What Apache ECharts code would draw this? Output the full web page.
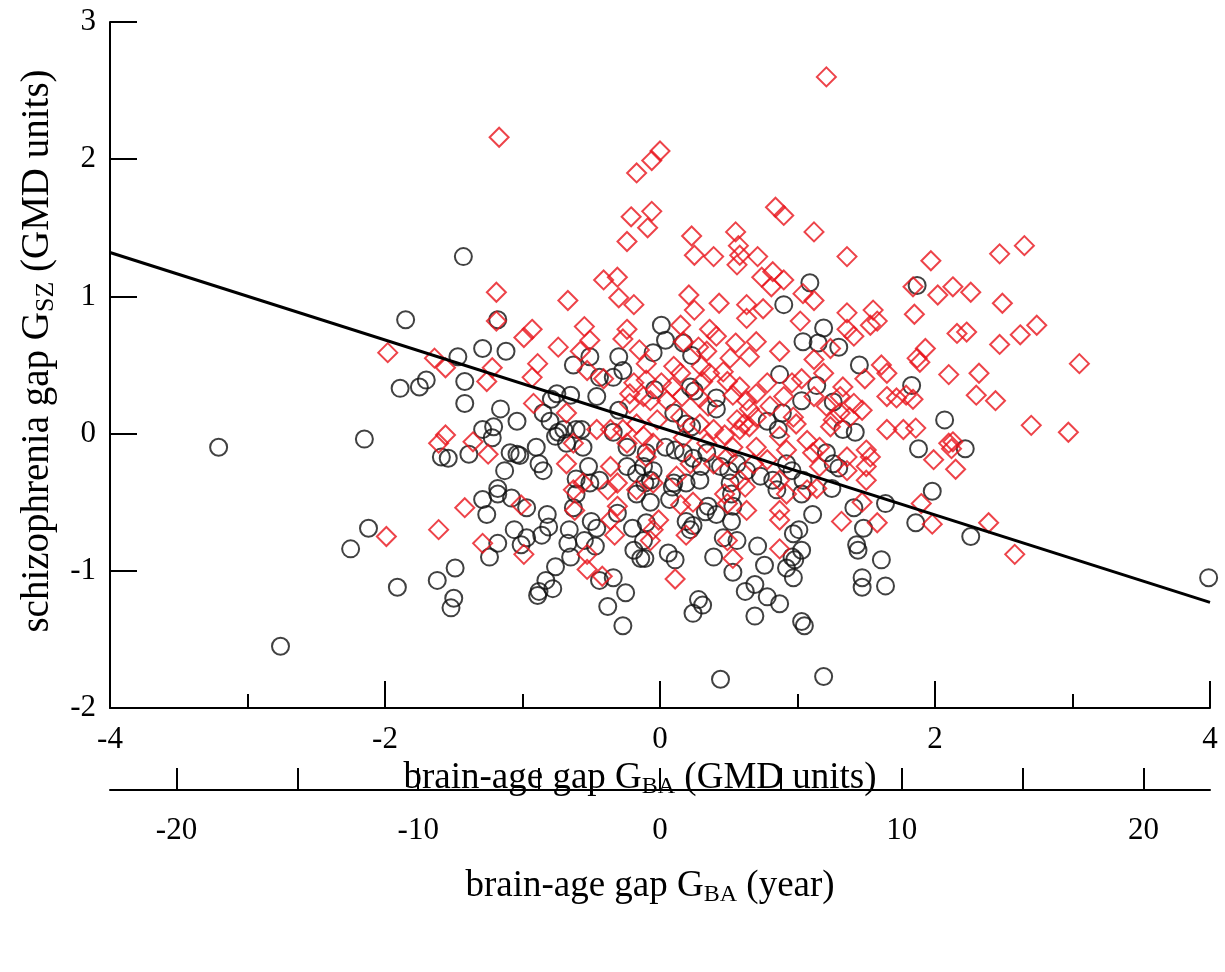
<!DOCTYPE html>
<html>
<head>
<meta charset="utf-8">
<script src="https://cdn.jsdelivr.net/npm/echarts@6.0.0/dist/echarts.min.js"></script>
<style>
  html, body { margin: 0; padding: 0; background: #fff; }
  #chart { width: 1225px; height: 972px; }
</style>
</head>
<body>
<div id="chart"></div>
<script>
// brain-age gap (GMD units), schizophrenia gap (GMD units) - black circles
const controlPoints = [
  [-3.21, -0.10], [-2.76, -1.55], [-2.25, -0.84], [-2.12, -0.69], [-2.15, -0.04],
  [-1.43, 1.29], [-1.85, 0.83], [-1.18, 0.83], [-1.29, 0.62], [-1.12, 0.60],
  [-1.47, 0.56], [-1.70, 0.39], [-1.75, 0.34], [-1.89, 0.33], [-1.42, 0.38],
  [-1.42, 0.22], [-1.16, 0.18], [-1.04, 0.09], [-1.29, 0.03], [-1.21, 0.05],
  [-1.22, -0.03], [-1.59, -0.17], [-1.54, -0.18], [-1.39, -0.15], [-1.09, -0.14],
  [-1.04, -0.15], [-1.02, -0.16], [-1.13, -0.27], [-1.18, -0.40], [-0.90, -0.10],
  [-0.88, -0.22], [-0.85, -0.27], [-0.85, 0.15], [-0.80, 0.09], [-0.76, -0.02],
  [-0.74, 0.01], [-0.70, 0.03], [-0.75, 0.29], [-0.79, 0.25], [-0.65, 0.28],
  [-0.63, 0.50], [-0.51, 0.56], [-0.30, 0.56], [-0.27, 0.46], [-0.34, 0.41],
  [-0.44, 0.41], [-0.46, 0.27], [-0.30, 0.17], [-0.61, 0.03], [-0.57, 0.03],
  [-0.68, -0.07], [-0.56, -0.10], [-0.52, -0.24], [-0.61, -0.33], [-0.51, -0.36],
  [-0.44, -0.34], [-0.24, -0.10], [-0.24, -0.24], [-0.17, -0.29], [-0.11, -0.36],
  [-0.10, -0.14], [-0.34, 0.01],
  [-1.91, -1.12], [-1.62, -1.07], [-1.49, -0.98], [-1.50, -1.20], [-1.52, -1.27],
  [-1.29, -0.48], [-1.18, -0.44], [-1.08, -0.47], [-0.97, -0.54], [-1.26, -0.59],
  [-1.18, -0.80], [-1.24, -0.90], [-1.06, -0.70], [-1.01, -0.81], [-0.97, -0.76],
  [-0.86, -0.74], [-0.81, -0.68], [-0.82, -0.59], [-0.76, -0.97], [-0.83, -1.07],
  [-0.78, -1.13], [-0.89, -1.18], [-0.88, -1.15], [-0.66, -0.70], [-0.67, -0.80],
  [-0.65, -0.90], [-0.63, -0.54], [-0.61, -0.44], [-0.55, -0.78], [-0.50, -0.64],
  [-0.46, -0.69], [-0.47, -0.82], [-0.44, -1.07], [-0.34, -1.05], [-0.38, -1.26],
  [-0.25, -1.16], [-0.27, -1.40], [-0.31, -0.58], [-0.20, -0.69], [-0.19, -0.85],
  [-0.14, -0.91], [-0.12, -0.78], [-0.17, -0.44],
  [-0.07, -0.50], [-0.10, -0.65], [-0.11, -0.91], [0.09, -0.39], [0.07, -0.48],
  [0.06, -0.87], [0.11, -0.92], [0.19, -0.64], [0.24, -0.67], [0.22, -0.70],
  [0.35, -0.53], [0.41, -0.59], [0.33, -0.57], [0.28, -1.21], [0.31, -1.25],
  [0.24, -1.31], [0.39, -0.90], [0.44, -1.79], [0.46, -0.76], [0.52, -0.64],
  [0.53, -0.53], [0.53, -1.01], [0.52, -0.44], [0.56, -0.78], [0.62, -1.15],
  [0.69, -1.10], [0.78, -1.19], [0.87, -1.24], [0.69, -1.33], [0.71, -0.82],
  [0.76, -0.96], [0.85, -0.41], [0.97, -0.73], [1.01, -0.70], [1.03, -0.85],
  [0.98, -0.92], [0.96, -0.90], [0.92, -0.98], [0.97, -1.05], [1.03, -1.37],
  [1.05, -1.40], [1.11, -0.59], [1.19, -1.77], [1.03, -0.44], [1.25, -0.40],
  [1.41, -0.54], [1.43, -0.81], [1.44, -0.85], [1.47, -1.05], [1.47, -1.12],
  [1.48, -0.69], [1.64, -0.51], [1.61, -0.92], [1.64, -1.11], [1.86, -0.65],
  [2.26, -0.75], [3.99, -1.05],
  [1.87, 1.08], [1.83, 0.35], [2.07, 0.10], [1.88, -0.11], [2.22, -0.11], [1.98, -0.42],
  [1.09, 1.10], [0.90, 0.94], [0.01, 0.79], [0.04, 0.68], [-0.05, 0.59],
  [1.04, 0.67], [1.19, 0.77], [1.15, 0.66], [1.30, 0.63], [1.45, 0.50],
  [0.87, 0.43], [1.14, 0.35], [-0.04, 0.32], [0.22, 0.34], [0.25, 0.31],
  [0.41, 0.26], [0.41, 0.18], [0.23, 0.57], [0.17, 0.66], [1.03, 0.24],
  [1.26, 0.23], [1.33, 0.03], [1.42, 0.01], [0.78, 0.09], [0.86, 0.03],
  [0.89, 0.15], [0.19, 0.07], [0.23, 0.05], [0.10, 0.15], [0.04, -0.10],
  [0.11, -0.12], [0.17, -0.14], [0.24, -0.18], [0.30, -0.24], [0.34, -0.14],
  [0.44, -0.24], [0.50, -0.27], [0.56, -0.22], [0.63, -0.27], [0.73, -0.31],
  [0.82, -0.34], [0.92, -0.22], [0.96, -0.27], [1.04, -0.34], [1.21, -0.14],
  [1.26, -0.22], [1.30, -0.25], [-0.12, -0.24], [-0.05, -0.27], [-0.07, -0.34],
  [0.10, -0.36], [0.19, -0.36], [0.29, -0.34], [0.51, -0.36]
];

// red diamonds
const patientPoints = [
  [-1.17, 2.16], [-0.17, 1.90], [-0.06, 1.99], [0.00, 2.06], [-0.21, 1.58],
  [-0.06, 1.62], [-0.24, 1.40], [-0.09, 1.50], [1.21, 2.60], [0.23, 1.44],
  [0.55, 1.47], [0.57, 1.37], [0.84, 1.65], [0.90, 1.59], [1.12, 1.47],
  [0.25, 1.30], [0.39, 1.29], [0.58, 1.30], [0.71, 1.29], [1.36, 1.29],
  [2.65, 1.37], [2.47, 1.31], [1.97, 1.26],
  [1.84, 1.07], [2.02, 1.01], [2.13, 1.07], [2.26, 1.03], [2.49, 0.95],
  [1.85, 0.87], [2.16, 0.73], [2.23, 0.74], [2.47, 0.65], [2.62, 0.72],
  [2.74, 0.79], [3.05, 0.51], [1.93, 0.62], [1.87, 0.55], [1.89, 0.52],
  [2.10, 0.43], [2.32, 0.44], [2.30, 0.28], [2.44, 0.24], [1.84, 0.25],
  [2.70, 0.06], [2.97, 0.01], [1.86, 0.04], [2.10, -0.07], [2.13, -0.06],
  [2.12, -0.11], [1.99, -0.19], [2.15, -0.26],
  [1.90, -0.51], [1.98, -0.66], [2.39, -0.65], [2.58, -0.88],
  [-1.98, 0.59], [-1.19, 1.03], [-1.19, 0.82], [-0.99, 0.70], [-0.93, 0.76],
  [-0.74, 0.63], [-0.67, 0.97], [-0.41, 1.12], [-0.31, 1.14], [-0.30, 0.99],
  [-0.19, 0.94], [-0.55, 0.78], [-0.51, 0.68], [-0.58, 0.60], [-0.24, 0.76],
  [-0.27, 0.69], [-0.15, 0.61], [-1.64, 0.55], [-1.56, 0.48], [-1.22, 0.48],
  [-1.26, 0.38], [-0.89, 0.51], [-0.93, 0.41], [-0.92, 0.22], [-0.68, 0.15],
  [-0.46, 0.03], [-0.36, 0.03], [-0.53, 0.46], [-0.41, 0.40], [-0.19, 0.37],
  [-0.22, 0.29], [-0.22, 0.22], [-0.12, 0.27], [-1.56, -0.01], [-1.61, -0.07],
  [-1.36, -0.06], [-1.25, -0.15], [-0.68, -0.22], [-0.63, -0.07], [-0.36, -0.24],
  [-0.27, 0.03], [-0.24, -0.07], [-0.17, 0.07], [-0.56, -0.36], [-0.31, -0.36],
  [0.56, 1.23], [0.82, 1.18], [0.90, 1.12], [0.74, 1.14], [0.81, 1.07],
  [0.21, 1.01], [0.25, 0.90], [0.43, 0.95], [0.63, 0.94], [0.75, 0.91],
  [0.63, 0.84], [1.04, 1.02], [1.12, 0.97], [1.36, 0.88], [1.55, 0.90],
  [1.53, 0.79], [1.58, 0.82], [1.02, 0.82], [1.36, 0.76], [1.41, 0.71],
  [0.15, 0.79], [0.36, 0.76], [0.41, 0.71], [0.55, 0.66], [0.70, 0.67],
  [0.17, 0.67], [0.28, 0.63], [0.34, 0.60], [0.51, 0.55], [0.65, 0.56],
  [0.87, 0.60], [1.12, 0.54], [1.24, 0.62], [1.61, 0.50], [1.65, 0.44],
  [-0.10, 0.51], [0.10, 0.49], [0.15, 0.44], [0.30, 0.49], [0.36, 0.44],
  [0.46, 0.45], [-0.10, 0.39], [0.01, 0.37], [0.09, 0.34], [0.31, 0.38],
  [0.49, 0.38], [0.58, 0.34], [0.70, 0.29], [0.78, 0.37], [0.96, 0.37],
  [1.03, 0.40], [1.19, 0.44], [1.33, 0.34], [1.49, 0.40], [1.65, 0.27],
  [1.72, 0.26], [1.79, 0.28], [-0.07, 0.24], [0.05, 0.24], [0.16, 0.27],
  [0.29, 0.26], [0.35, 0.20], [0.53, 0.28], [0.63, 0.24], [0.65, 0.18],
  [0.80, 0.20], [0.90, 0.27], [1.12, 0.27], [1.21, 0.20], [1.31, 0.27],
  [1.41, 0.22], [1.47, 0.17], [1.65, 0.03], [1.77, 0.03], [0.56, 0.10],
  [0.61, 0.07], [0.65, 0.05], [0.58, 0.03], [0.70, 0.12], [0.97, 0.12],
  [0.99, 0.07], [1.07, -0.05], [1.26, 0.10], [1.31, 0.15], [1.38, 0.12],
  [1.50, -0.12], [1.53, -0.17], [1.50, -0.24], [1.36, -0.17], [1.16, -0.10],
  [1.24, 0.05], [-0.02, 0.10], [0.15, 0.12], [0.29, 0.07], [0.39, 0.03],
  [0.47, -0.01], [-0.12, -0.02], [-0.05, -0.07], [0.17, -0.03], [0.34, -0.07],
  [0.53, -0.10], [0.70, -0.10], [0.87, -0.02], [0.92, -0.12], [0.78, -0.19],
  [0.68, -0.22], [0.49, -0.17], [0.39, -0.22], [0.22, -0.22], [-0.10, -0.17],
  [1.11, -0.14], [1.16, -0.24], [1.36, -0.27], [1.50, -0.34], [-0.05, -0.36],
  [0.12, -0.31], [0.58, -0.34], [0.87, -0.34],
  [-1.99, -0.75], [-1.61, -0.70], [-1.42, -0.54], [-1.29, -0.80], [-1.01, -0.52],
  [-0.99, -0.88], [-0.63, -0.41], [-0.62, -0.56], [-0.53, -0.88], [-0.53, -0.99],
  [-0.42, -1.04], [-0.38, -0.41], [-0.31, -0.53], [-0.36, -0.63], [-0.33, -0.74],
  [-0.17, -0.41],
  [-0.01, -0.63], [-0.05, -0.70], [-0.07, -0.78], [0.15, -0.52], [0.24, -0.50],
  [0.19, -0.74], [0.11, -1.06], [0.47, -0.44], [0.49, -0.51], [0.62, -0.39],
  [0.63, -0.56], [0.49, -0.78], [0.53, -0.91], [0.87, -0.63], [0.87, -0.56],
  [0.87, -0.84], [0.92, -0.44], [1.07, -0.41], [1.14, -0.40], [1.32, -0.64],
  [1.47, -0.50], [1.58, -0.65]
];

// fitted line end points
const fitX = [-4, 4];
const fitY = [1.32, -1.23];

// lower axis in years
const yearRange = [-22.75, 22.75];
const yearTicks = [-20, -15, -10, -5, 0, 5, 10, 15, 20];
const yearLabels = [-20, -10, 0, 10, 20];

const serif = "'Liberation Serif', 'DejaVu Serif', serif";

// axis title with subscript, padding nudges it off-centre like the original
function titleStyle(size, pad) {
  return {
    fontFamily: serif,
    fontSize: size,
    color: "#000",
    padding: pad,
    rich: {
      sub: { fontFamily: serif, fontSize: Math.round(size * 0.66), color: "#000", padding: [Math.round(size * 0.45), 0, 0, 0] }
    }
  };
}

const myChart = echarts.init(document.getElementById("chart"));

const option = {
  backgroundColor: "#fff",
  animation: false,
  textStyle: { fontFamily: serif },
  grid: [
    { left: 110, top: 22, width: 1100, height: 686 },
    { left: 110, top: 789, width: 1100, height: 1 }
  ],
  xAxis: [
    {
      gridIndex: 0,
      type: "value",
      min: -4,
      max: 4,
      interval: 2,
      name: "brain-age gap G{sub|BA} (GMD units)",
      nameLocation: "middle",
      nameGap: 42,
      nameTextStyle: titleStyle(37, [0, 40, 0, 0]),
      axisLine: { onZero: false, lineStyle: { color: "#000", width: 2 } },
      axisTick: { inside: true, length: 27, lineStyle: { color: "#000", width: 2 } },
      minorTick: { show: true, splitNumber: 2, length: 14, lineStyle: { color: "#000", width: 2 } },
      axisLabel: { fontFamily: serif, fontSize: 31, color: "#000", margin: 16 },
      splitLine: { show: false }
    },
    {
      gridIndex: 1,
      type: "value",
      min: yearRange[0],
      max: yearRange[1],
      name: "brain-age gap G{sub|BA} (year)",
      nameLocation: "middle",
      nameGap: 76,
      nameTextStyle: titleStyle(37, [0, 20, 0, 0]),
      axisLine: { onZero: false, lineStyle: { color: "#000", width: 2 } },
      axisTick: {
        inside: true,
        length: 22,
        customValues: yearTicks,
        lineStyle: { color: "#000", width: 2 }
      },
      axisLabel: {
        fontFamily: serif,
        fontSize: 31,
        color: "#000",
        margin: 25,
        customValues: yearLabels
      },
      splitLine: { show: false }
    }
  ],
  yAxis: [
    {
      gridIndex: 0,
      type: "value",
      min: -2,
      max: 3,
      interval: 1,
      name: "schizophrenia gap G{sub|SZ} (GMD units)",
      nameLocation: "middle",
      nameGap: 50,
      nameTextStyle: titleStyle(39, [0, 0, 0, 28]),
      axisLine: { show: true, onZero: false, lineStyle: { color: "#000", width: 2 } },
      axisTick: { show: true, inside: true, length: 27, lineStyle: { color: "#000", width: 2 } },
      axisLabel: { fontFamily: serif, fontSize: 31, color: "#000", margin: 14 },
      splitLine: { show: false }
    },
    {
      gridIndex: 1,
      type: "value",
      show: false
    }
  ],
  series: [
    {
      name: "control",
      type: "scatter",
      xAxisIndex: 0,
      yAxisIndex: 0,
      symbol: "circle",
      symbolSize: 17,
      silent: true,
      itemStyle: { color: "rgba(0,0,0,0)", borderColor: "#111", borderWidth: 2 },
      data: controlPoints
    },
    {
      name: "schizophrenia",
      type: "scatter",
      xAxisIndex: 0,
      yAxisIndex: 0,
      symbol: "diamond",
      symbolSize: 19,
      silent: true,
      itemStyle: { color: "rgba(0,0,0,0)", borderColor: "#e8141c", borderWidth: 2 },
      data: patientPoints
    },
    {
      name: "fit",
      type: "line",
      xAxisIndex: 0,
      yAxisIndex: 0,
      symbol: "none",
      silent: true,
      lineStyle: { color: "#000", width: 3 },
      data: fitX.map((x, i) => [x, fitY[i]])
    }
  ]
};

myChart.setOption(option);
</script>
</body>
</html>
